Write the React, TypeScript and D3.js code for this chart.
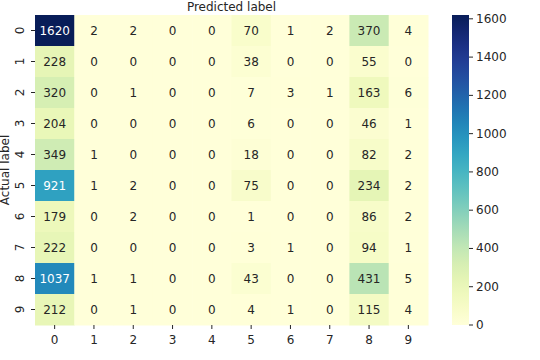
import React from "react";
import * as d3 from "d3";

const labels = ["0", "1", "2", "3", "4", "5", "6", "7", "8", "9"];
const row0 = [1620, 2, 2, 0, 0, 70, 1, 2, 370, 4];
const row1 = [228, 0, 0, 0, 0, 38, 0, 0, 55, 0];
const row2 = [320, 0, 1, 0, 0, 7, 3, 1, 163, 6];
const row3 = [204, 0, 0, 0, 0, 6, 0, 0, 46, 1];
const row4 = [349, 1, 0, 0, 0, 18, 0, 0, 82, 2];
const row5 = [921, 1, 2, 0, 0, 75, 0, 0, 234, 2];
const row6 = [179, 0, 2, 0, 0, 1, 0, 0, 86, 2];
const row7 = [222, 0, 0, 0, 0, 3, 1, 0, 94, 1];
const row8 = [1037, 1, 1, 0, 0, 43, 0, 0, 431, 5];
const row9 = [212, 0, 1, 0, 0, 4, 1, 0, 115, 4];
const matrix = [row0, row1, row2, row3, row4, row5, row6, row7, row8, row9];
const cbTicks = [0, 200, 400, 600, 800, 1000, 1200, 1400, 1600];

const W = 540, H = 360;
const L = 35, R = 428, T = 15, B = 325;
const CBL = 452, CBR = 469;
const FONT = "DejaVu Sans, sans-serif";
const FS = 12;

function lum(c: string) {
  const rgb = d3.rgb(c);
  const f = (v: number) => {
    v = v / 255;
    return v <= 0.03928 ? v / 12.92 : Math.pow((v + 0.055) / 1.055, 2.4);
  };
  return 0.2126 * f(rgb.r) + 0.7152 * f(rgb.g) + 0.0722 * f(rgb.b);
}

export default function App() {
  const vmax = d3.max(matrix.flat()) as number;
  const x = d3.scaleBand().domain(labels).range([L, R]);
  const y = d3.scaleBand().domain(labels).range([T, B]);
  const color = d3.scaleSequential(d3.interpolateYlGnBu).domain([0, vmax]);
  const cy = d3.scaleLinear().domain([0, vmax]).range([B, T]);
  const stops = d3.range(0, 1.0001, 0.05);

  return (
    <svg width={W} height={H} style={{ position: "absolute", left: 0, top: 0 }} fontFamily={FONT}>
      <defs>
        <linearGradient id="cb" x1="0" y1="1" x2="0" y2="0">
          {stops.map((s) => (
            <stop key={s} offset={s} stopColor={d3.interpolateYlGnBu(s)} />
          ))}
        </linearGradient>
      </defs>
      <rect width={W} height={H} fill="white" />
      {matrix.map((row, i) =>
        row.map((v, j) => {
          const c = color(v);
          const tc = lum(c) > 0.408 ? "#262626" : "white";
          return (
            <g key={`${i}-${j}`}>
              <rect x={x(labels[j])} y={y(labels[i])} width={x.bandwidth() + 0.5} height={y.bandwidth() + 0.5} fill={c} />
              <text
                x={(x(labels[j]) as number) + x.bandwidth() / 2}
                y={(y(labels[i]) as number) + y.bandwidth() / 2}
                textAnchor="middle"
                dominantBaseline="central"
                fontSize={FS}
                fill={tc}
              >
                {v}
              </text>
            </g>
          );
        })
      )}
      {labels.map((l) => {
        const cx = (x(l) as number) + x.bandwidth() / 2;
        return (
          <g key={"x" + l}>
            <line x1={cx} x2={cx} y1={B} y2={B + 4} stroke="#262626" strokeWidth={1} />
            <text x={cx} y={B + 18.5} textAnchor="middle" fontSize={FS} fill="#262626">{l}</text>
          </g>
        );
      })}
      {labels.map((l) => {
        const yy = (y(l) as number) + y.bandwidth() / 2;
        return (
          <g key={"y" + l}>
            <line x1={L - 4} x2={L} y1={yy} y2={yy} stroke="#262626" strokeWidth={1} />
            <text transform={`translate(${L - 11},${yy}) rotate(-90)`} textAnchor="middle" fontSize={FS} fill="#262626">{l}</text>
          </g>
        );
      })}
      <text x={(L + R) / 2} y={11} textAnchor="middle" fontSize={FS} fill="#262626">Predicted label</text>
      <text transform={`translate(9,${(T + B) / 2}) rotate(-90)`} textAnchor="middle" fontSize={FS} fill="#262626">Actual label</text>
      <rect x={CBL} y={T} width={CBR - CBL} height={B - T} fill="url(#cb)" />
      {cbTicks.map((t) => (
        <g key={"c" + t}>
          <line x1={CBR} x2={CBR + 4} y1={cy(t)} y2={cy(t)} stroke="#262626" strokeWidth={1} />
          <text x={CBR + 7} y={cy(t)} dominantBaseline="central" fontSize={FS} fill="#262626">{t}</text>
        </g>
      ))}
    </svg>
  );
}
